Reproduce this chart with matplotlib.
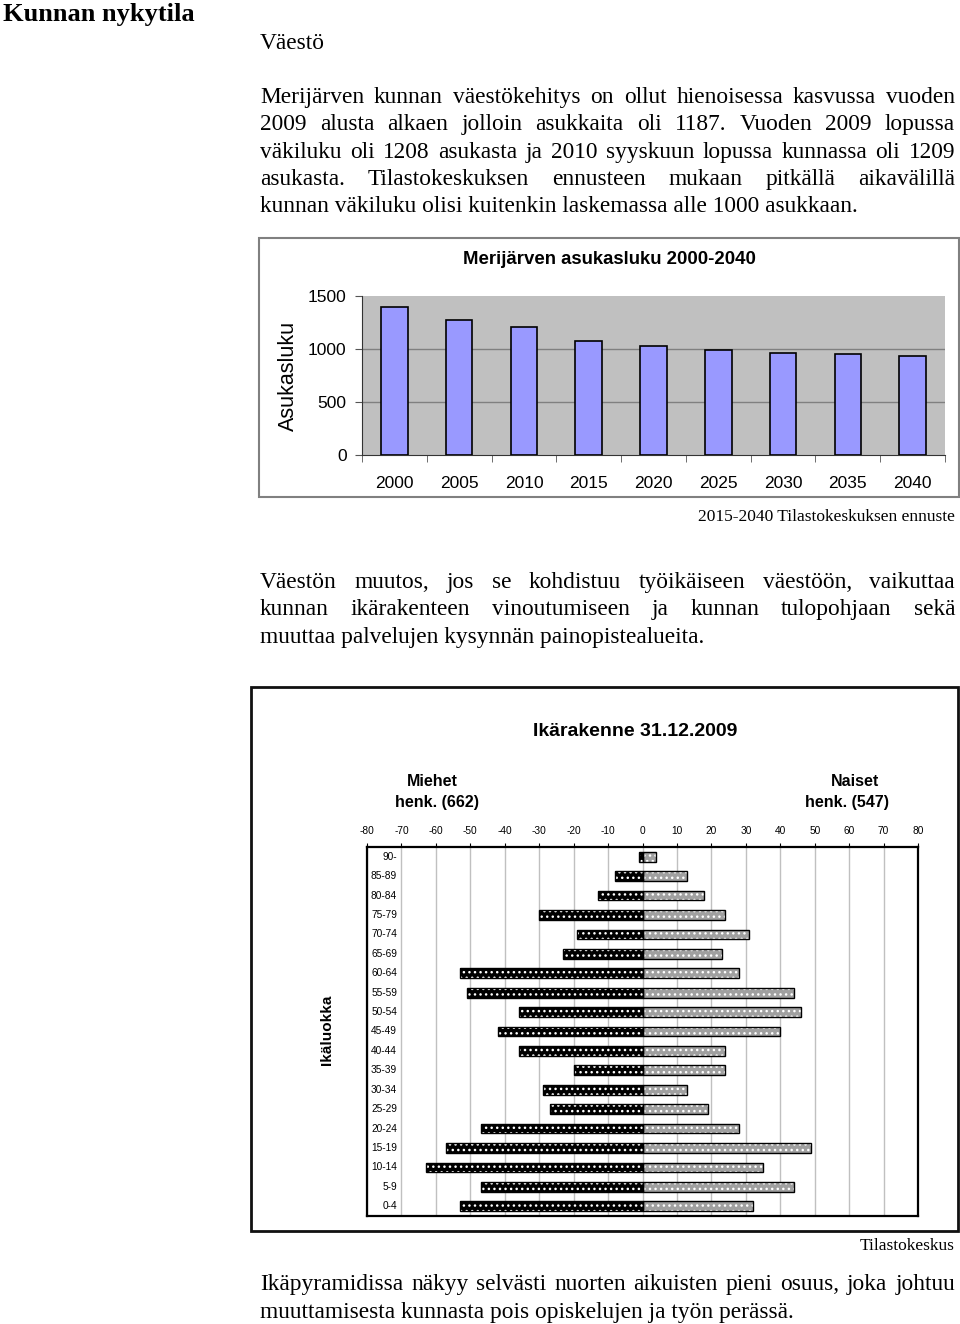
import matplotlib
matplotlib.use("Agg")
import matplotlib.pyplot as plt
from matplotlib.patches import Rectangle
import numpy as np

# population 2000-2040 (2015- forecast)
years = ['2000', '2005', '2010', '2015', '2020', '2025', '2030', '2035', '2040']
population = [1400, 1273, 1210, 1072, 1028, 991, 966, 950, 936]

# age structure 31.12.2009, bottom -> top
age_groups = ['0-4', '5-9', '10-14', '15-19', '20-24', '25-29', '30-34', '35-39', '40-44',
              '45-49', '50-54', '55-59', '60-64', '65-69', '70-74', '75-79', '80-84', '85-89', '90-']
men = [53, 47, 63, 57, 47, 27, 29, 20, 36, 42, 36, 51, 53, 23, 19, 30, 13, 8, 1]
women = [32, 44, 35, 49, 28, 19, 13, 24, 24, 40, 46, 44, 28, 23, 31, 24, 18, 13, 4]
pyr_ticks = list(range(-80, 81, 10))

W, H = 960, 1324
SERIF = 'Liberation Serif'
SANS = 'Liberation Sans'

fig = plt.figure(figsize=(W / 100, H / 100), dpi=100)
renderer = fig.canvas.get_renderer()


def fx(x):
    return x / W


def fy(y):
    return 1 - y / H


def axes_px(left, top, right, bottom):
    return fig.add_axes([fx(left), fy(bottom), (right - left) / W, (bottom - top) / H])


def box_px(left, top, right, bottom, **kw):
    fig.add_artist(Rectangle((fx(left), fy(bottom)), (right - left) / W, (bottom - top) / H,
                             transform=fig.transFigure, fill=False, **kw))


def line_of_text(s, y, x0=260, x1=955, justify=True, size=16.8):
    # y is the visual middle of the line, text drawn on a common baseline
    yb = fy(y + 7)
    if not justify:
        fig.text(fx(x0), yb, s, family=SERIF, fontsize=size, va='baseline')
        return
    words = s.split()
    texts = [fig.text(0, yb, w, family=SERIF, fontsize=size, va='baseline') for w in words]
    widths = [t.get_window_extent(renderer).width for t in texts]
    gap = (x1 - x0 - sum(widths)) / (len(words) - 1)
    x = x0
    for t, w in zip(texts, widths):
        t.set_x(fx(x))
        x += w + gap


# heading and text
fig.text(fx(3), fy(14), 'Kunnan nykytila', family=SERIF, fontsize=19, fontweight='bold', va='center')
fig.text(fx(260), fy(42 + 7), 'Väestö', family=SERIF, fontsize=16.8, va='baseline')

p1 = ['Merijärven kunnan väestökehitys on ollut hienoisessa kasvussa vuoden',
      '2009 alusta alkaen jolloin asukkaita oli 1187. Vuoden 2009 lopussa',
      'väkiluku oli 1208 asukasta ja 2010 syyskuun lopussa kunnassa oli 1209',
      'asukasta. Tilastokeskuksen ennusteen mukaan pitkällä aikavälillä',
      'kunnan väkiluku olisi kuitenkin laskemassa alle 1000 asukkaan.']
for i, (s, y) in enumerate(zip(p1, [96, 123, 151, 178, 205])):
    line_of_text(s, y, justify=i < 4)

p2 = ['Väestön muutos, jos se kohdistuu työikäiseen väestöön, vaikuttaa',
      'kunnan ikärakenteen vinoutumiseen ja kunnan tulopohjaan sekä',
      'muuttaa palvelujen kysynnän painopistealueita.']
for i, (s, y) in enumerate(zip(p2, [581, 608, 636])):
    line_of_text(s, y, justify=i < 2)

p3 = ['Ikäpyramidissa näkyy selvästi nuorten aikuisten pieni osuus, joka johtuu',
      'muuttamisesta kunnasta pois opiskelujen ja työn perässä.']
for i, (s, y) in enumerate(zip(p3, [1283, 1311])):
    line_of_text(s, y, justify=i < 1)

# --- population bar chart ---
box_px(259, 238, 959, 497, edgecolor='#808080', lw=1.5)
ax1 = axes_px(362, 296, 945, 455)
xpos = np.arange(len(years))
ax1.set_facecolor('#C0C0C0')
ax1.bar(xpos, population, width=0.41, color='#9999FF', edgecolor='black', lw=1.2, zorder=3)
ax1.set_xlim(-0.5, len(years) - 0.5)
ax1.set_ylim(0, 1500)
ax1.set_yticks([0, 500, 1000, 1500])
for v in [500, 1000]:
    ax1.axhline(v, color='#808080', lw=1, zorder=1)
ax1.set_xticks(xpos)
ax1.set_xticklabels(years)
ax1.set_xticks(np.arange(len(years) + 1) - 0.5, minor=True)
ax1.tick_params(axis='x', which='major', length=0, pad=15, labelsize=12.5)
ax1.tick_params(axis='x', which='minor', length=5, direction='out', color='#555555')
ax1.tick_params(axis='y', length=5, pad=6, labelsize=12.5, color='#555555')
for lab in ax1.get_xticklabels() + ax1.get_yticklabels():
    lab.set_family(SANS)
for side in ['top', 'right']:
    ax1.spines[side].set_visible(False)
ax1.spines['left'].set_color('#333333')
ax1.spines['bottom'].set_color('#333333')
fig.text(fx(609), fy(260), 'Merijärven asukasluku 2000-2040', family=SANS, fontsize=13.4,
         fontweight='bold', ha='center', va='center')
fig.text(fx(288), fy(376), 'Asukasluku', family=SANS, fontsize=15.5, rotation=90,
         ha='center', va='center')
fig.text(fx(955), fy(517), '2015-2040 Tilastokeskuksen ennuste', family=SERIF, fontsize=12.5,
         ha='right', va='center')

# --- age pyramid ---
box_px(251, 687, 958, 1231, edgecolor='#111111', lw=2)
ax2 = axes_px(367, 847, 918, 1216)
ypos = np.arange(len(age_groups))
ax2.set_xlim(-80, 80)
ax2.set_ylim(-0.5, len(age_groups) - 0.5)
ax2.set_xticks(pyr_ticks)
ax2.set_xticklabels([str(t) for t in pyr_ticks])
ax2.xaxis.tick_top()
ax2.tick_params(axis='x', length=3, pad=5, labelsize=7.3)
for lab in ax2.get_xticklabels():
    lab.set_family(SANS)
ax2.set_yticks([])
ax2.grid(axis='x', color='#C0C0C0', lw=1)
ax2.set_axisbelow(True)
for s in ax2.spines.values():
    s.set_linewidth(1.6)

m = -np.array(men)
f = np.array(women)
ax2.barh(ypos, m, height=0.5, color='black', edgecolor='white', hatch='...', lw=0, zorder=3)
ax2.barh(ypos, m, height=0.5, fill=False, edgecolor='black', lw=1, zorder=4)
ax2.barh(ypos, f, height=0.5, color='#A0A0A0', edgecolor='white', hatch='...', lw=0, zorder=3)
ax2.barh(ypos, f, height=0.5, fill=False, edgecolor='black', lw=1, zorder=4)
for y, lab in zip(ypos, age_groups):
    ax2.text(-71.3, y, lab, ha='right', va='center', fontsize=7.3, family=SANS, zorder=5)

fig.text(fx(635), fy(731), 'Ikärakenne 31.12.2009', family=SANS, fontsize=14,
         fontweight='bold', ha='center', va='center')
fig.text(fx(432), fy(781), 'Miehet', family=SANS, fontsize=11.5, fontweight='bold', ha='center', va='center')
fig.text(fx(437), fy(802), 'henk. (662)', family=SANS, fontsize=11.5, fontweight='bold', ha='center', va='center')
fig.text(fx(855), fy(781), 'Naiset', family=SANS, fontsize=11.5, fontweight='bold', ha='center', va='center')
fig.text(fx(847), fy(802), 'henk. (547)', family=SANS, fontsize=11.5, fontweight='bold', ha='center', va='center')
fig.text(fx(327), fy(1030), 'Ikäluokka', family=SANS, fontsize=11, fontweight='bold', rotation=90,
         ha='center', va='center')
fig.text(fx(955), fy(1246), 'Tilastokeskus', family=SERIF, fontsize=12.5, ha='right', va='center')

fig.savefig('out.png', dpi=100)
